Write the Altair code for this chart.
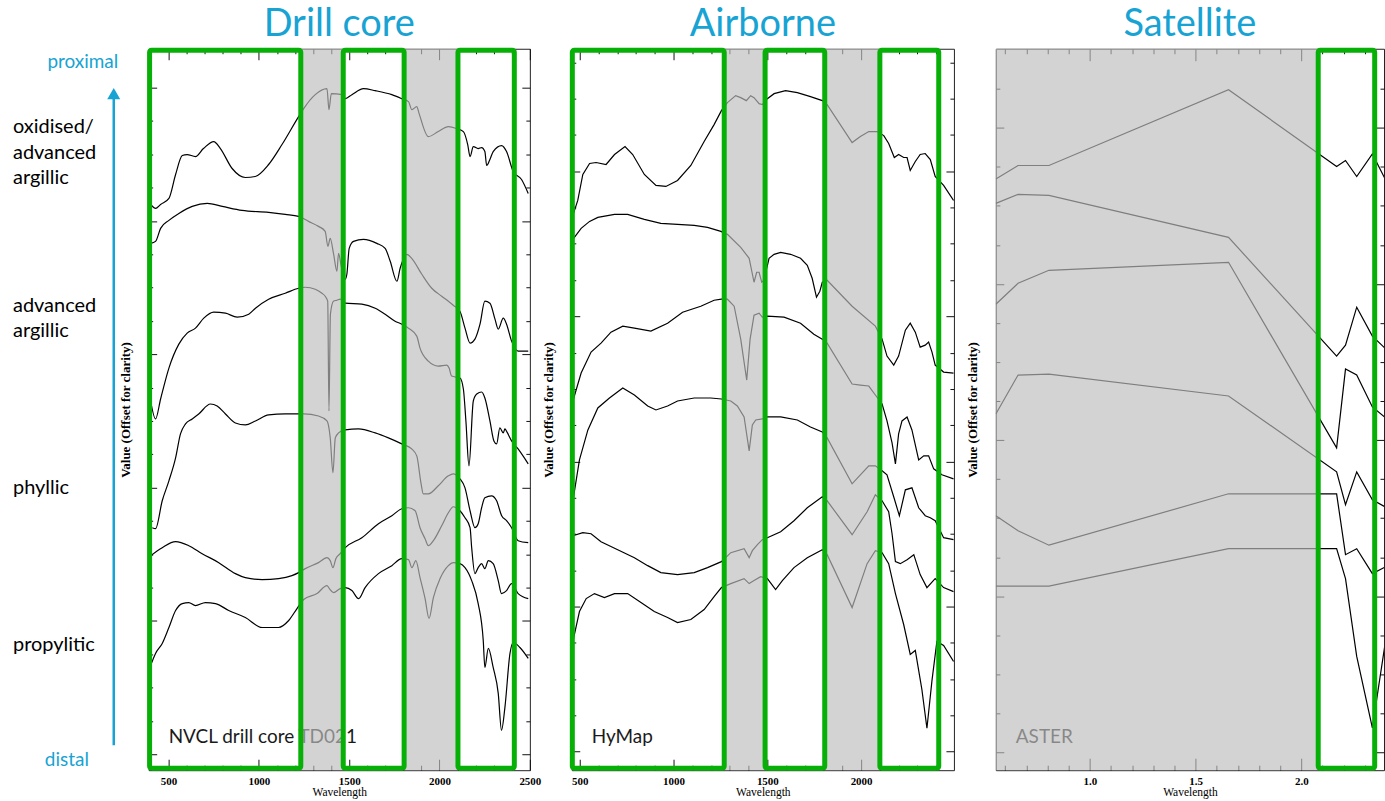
import altair as alt
import pandas as pd

# ---------------------------------------------------------------------------
# Reflectance spectra, offset for clarity (top = proximal, bottom = distal)
# ---------------------------------------------------------------------------
ZONES = ["oxidised", "adv_argillic_a", "adv_argillic_b", "phyllic_a", "phyllic_b", "propylitic"]

# NVCL drill core TD021 (wavelength in nm)
CORE_WL_1 = [406, 428, 456, 502, 539, 576, 603, 649, 693, 750, 787, 852, 925, 980, 1054, 1128, 1220, 1248, 1312, 1377,
             1388, 1401, 1460, 1478, 1515, 1579, 1644, 1736, 1791, 1828, 1847, 1874, 1887, 1938, 1993, 2049, 2095, 2132,
             2156, 2169, 2187, 2214, 2233, 2251, 2261, 2279, 2297, 2344, 2371, 2408, 2454, 2491]
CORE_VAL_1 = [0.566, 0.563, 0.567, 0.573, 0.597, 0.616, 0.617, 0.615, 0.623, 0.630, 0.623, 0.603, 0.594, 0.595, 0.607,
              0.627, 0.655, 0.663, 0.677, 0.683, 0.662, 0.678, 0.677, 0.673, 0.677, 0.683, 0.681, 0.677, 0.673, 0.670,
              0.662, 0.665, 0.658, 0.635, 0.640, 0.645, 0.643, 0.640, 0.627, 0.615, 0.625, 0.623, 0.624, 0.620, 0.606,
              0.612, 0.620, 0.626, 0.620, 0.600, 0.592, 0.578]
CORE_WL_2 = [401, 428, 456, 502, 557, 631, 714, 797, 907, 1054, 1146, 1220, 1275, 1330, 1367, 1382, 1395, 1413, 1432,
             1441, 1456, 1478, 1487, 1500, 1524, 1579, 1653, 1699, 1727, 1764, 1782, 1819, 1846, 1902, 1957, 2012, 2049,
             2076, 2113, 2141, 2169, 2196, 2224, 2251, 2279, 2307, 2325, 2353, 2371, 2399, 2435, 2491]
CORE_VAL_2 = [0.528, 0.530, 0.543, 0.551, 0.558, 0.565, 0.568, 0.565, 0.561, 0.559, 0.557, 0.555, 0.550, 0.545, 0.540,
              0.525, 0.533, 0.518, 0.500, 0.518, 0.505, 0.492, 0.497, 0.523, 0.530, 0.532, 0.528, 0.523, 0.510, 0.490,
              0.503, 0.517, 0.513, 0.497, 0.483, 0.475, 0.470, 0.466, 0.460, 0.443, 0.428, 0.432, 0.447, 0.470, 0.468,
              0.452, 0.442, 0.453, 0.447, 0.430, 0.420, 0.420]
CORE_WL_3 = [401, 428, 456, 502, 557, 603, 649, 695, 750, 815, 880, 944, 981, 1054, 1146, 1220, 1257, 1312, 1349, 1367,
             1381, 1388, 1396, 1413, 1432, 1450, 1478, 1570, 1644, 1699, 1754, 1791, 1828, 1874, 1892, 1938, 1993, 2040,
             2053, 2067, 2113, 2132, 2146, 2163, 2187, 2206, 2233, 2251, 2279, 2301, 2316, 2334, 2353, 2362, 2373, 2399,
             2435, 2491]
CORE_VAL_3 = [0.370, 0.352, 0.372, 0.403, 0.427, 0.438, 0.443, 0.453, 0.459, 0.458, 0.454, 0.457, 0.463, 0.472, 0.478,
              0.483, 0.484, 0.482, 0.478, 0.475, 0.470, 0.360, 0.457, 0.470, 0.471, 0.472, 0.468, 0.467, 0.463, 0.457,
              0.450, 0.447, 0.443, 0.435, 0.423, 0.410, 0.405, 0.406, 0.403, 0.395, 0.393, 0.382, 0.350, 0.305, 0.370,
              0.377, 0.379, 0.373, 0.350, 0.330, 0.327, 0.343, 0.338, 0.342, 0.339, 0.330, 0.322, 0.307]
CORE_WL_4 = [410, 428, 465, 502, 539, 566, 594, 631, 667, 732, 769, 815, 870, 925, 981, 1054, 1146, 1220, 1248, 1330,
             1377, 1395, 1410, 1423, 1441, 1478, 1552, 1644, 1717, 1791, 1846, 1874, 1898, 1910, 1938, 1993, 2049, 2076,
             2113, 2141, 2169, 2196, 2214, 2233, 2251, 2288, 2316, 2344, 2371, 2399, 2435, 2491]
CORE_VAL_4 = [0.243, 0.242, 0.270, 0.290, 0.313, 0.337, 0.347, 0.352, 0.357, 0.367, 0.365, 0.357, 0.348, 0.346, 0.350,
              0.356, 0.357, 0.357, 0.357, 0.355, 0.350, 0.333, 0.298, 0.333, 0.338, 0.341, 0.342, 0.338, 0.333, 0.327,
              0.322, 0.315, 0.287, 0.277, 0.277, 0.285, 0.295, 0.297, 0.292, 0.283, 0.260, 0.243, 0.247, 0.263, 0.273,
              0.275, 0.270, 0.255, 0.250, 0.243, 0.230, 0.228]
CORE_WL_5 = [401, 465, 539, 612, 686, 778, 870, 925, 1018, 1109, 1183, 1220, 1257, 1330, 1377, 1395, 1410, 1426, 1450,
             1478, 1570, 1662, 1736, 1791, 1828, 1865, 1892, 1920, 1938, 1966, 2012, 2049, 2076, 2113, 2141, 2169, 2178,
             2196, 2214, 2233, 2251, 2270, 2297, 2325, 2343, 2371, 2399, 2435, 2491]
CORE_VAL_5 = [0.215, 0.223, 0.229, 0.225, 0.217, 0.208, 0.197, 0.193, 0.191, 0.192, 0.195, 0.198, 0.202, 0.208, 0.213,
              0.210, 0.203, 0.212, 0.217, 0.223, 0.233, 0.247, 0.255, 0.262, 0.263, 0.260, 0.243, 0.232, 0.225, 0.230,
              0.245, 0.258, 0.264, 0.260, 0.253, 0.243, 0.223, 0.197, 0.203, 0.207, 0.202, 0.210, 0.207, 0.190, 0.177,
              0.180, 0.187, 0.177, 0.172]
CORE_WL_6 = [401, 428, 465, 502, 539, 576, 612, 649, 704, 760, 833, 925, 1018, 1109, 1165, 1211, 1248, 1322, 1377, 1390,
             1413, 1450, 1478, 1515, 1552, 1588, 1662, 1736, 1791, 1828, 1847, 1869, 1892, 1920, 1942, 1966, 2003, 2049,
             2076, 2113, 2141, 2178, 2214, 2242, 2251, 2270, 2297, 2325, 2343, 2362, 2390, 2408, 2445, 2491]
CORE_VAL_6 = [0.105, 0.117, 0.127, 0.143, 0.160, 0.167, 0.168, 0.165, 0.168, 0.167, 0.160, 0.153, 0.143, 0.143, 0.150,
              0.162, 0.171, 0.177, 0.185, 0.182, 0.178, 0.182, 0.183, 0.180, 0.172, 0.183, 0.197, 0.205, 0.212, 0.211,
              0.203, 0.210, 0.193, 0.172, 0.152, 0.173, 0.192, 0.205, 0.208, 0.207, 0.203, 0.190, 0.167, 0.130, 0.103,
              0.122, 0.103, 0.077, 0.040, 0.063, 0.117, 0.128, 0.123, 0.112]

# HyMap airborne (wavelength in nm)
AIR_WL_1 = [463, 489, 516, 552, 587, 640, 685, 741, 782, 844, 906, 959, 1021, 1092, 1163, 1216, 1255, 1287, 1331, 1358,
            1388, 1411, 1429, 1456, 1473, 1500, 1536, 1597, 1660, 1730, 1793, 1819, 1952, 1996, 2041, 2085, 2121, 2147,
            2177, 2200, 2227, 2245, 2262, 2289, 2315, 2342, 2369, 2395, 2440, 2493]
AIR_VAL_1 = [0.556, 0.571, 0.597, 0.608, 0.609, 0.607, 0.617, 0.625, 0.617, 0.597, 0.586, 0.585, 0.591, 0.606, 0.630,
             0.647, 0.661, 0.669, 0.676, 0.674, 0.671, 0.676, 0.674, 0.668, 0.667, 0.673, 0.678, 0.681, 0.679, 0.675,
             0.671, 0.667, 0.629, 0.635, 0.640, 0.640, 0.636, 0.628, 0.614, 0.617, 0.614, 0.614, 0.601, 0.610, 0.617,
             0.618, 0.612, 0.595, 0.586, 0.571]
AIR_WL_2 = [463, 507, 552, 596, 685, 755, 844, 932, 1021, 1110, 1181, 1252, 1287, 1358, 1403, 1429, 1443, 1456, 1470,
            1482, 1509, 1536, 1571, 1624, 1677, 1713, 1739, 1762, 1780, 1793, 1819, 1952, 2076, 2112, 2138, 2174, 2200,
            2236, 2262, 2289, 2315, 2342, 2360, 2378, 2395, 2440, 2493]
AIR_VAL_2 = [0.532, 0.543, 0.550, 0.554, 0.557, 0.557, 0.552, 0.548, 0.547, 0.546, 0.544, 0.540, 0.537, 0.524, 0.513,
             0.489, 0.499, 0.499, 0.489, 0.491, 0.513, 0.517, 0.519, 0.517, 0.513, 0.506, 0.493, 0.474, 0.480, 0.489,
             0.491, 0.465, 0.445, 0.432, 0.415, 0.406, 0.415, 0.441, 0.448, 0.439, 0.424, 0.426, 0.429, 0.419, 0.406,
             0.399, 0.398]
AIR_WL_3 = [463, 507, 560, 613, 666, 729, 791, 879, 968, 1048, 1145, 1216, 1255, 1287, 1323, 1358, 1390, 1408, 1429,
            1456, 1473, 1500, 1589, 1677, 1748, 1793, 1819, 1952, 1996, 2041, 2076, 2112, 2138, 2165, 2183, 2200, 2218,
            2245, 2271, 2307, 2334, 2360, 2387, 2431, 2493]
AIR_VAL_3 = [0.370, 0.398, 0.419, 0.428, 0.439, 0.445, 0.443, 0.440, 0.448, 0.459, 0.465, 0.471, 0.472, 0.472, 0.465,
             0.432, 0.391, 0.432, 0.456, 0.458, 0.454, 0.455, 0.454, 0.448, 0.437, 0.432, 0.428, 0.387, 0.386, 0.385,
             0.376, 0.367, 0.350, 0.328, 0.307, 0.337, 0.350, 0.354, 0.341, 0.311, 0.315, 0.315, 0.302, 0.296, 0.292]
AIR_WL_4 = [463, 498, 543, 596, 658, 729, 791, 862, 906, 968, 1021, 1110, 1198, 1255, 1305, 1340, 1376, 1403, 1420,
            1438, 1473, 1500, 1571, 1660, 1730, 1793, 1819, 1952, 1996, 2041, 2076, 2112, 2138, 2177, 2204, 2236, 2271,
            2307, 2342, 2369, 2395, 2440, 2493]
AIR_VAL_4 = [0.270, 0.311, 0.341, 0.363, 0.373, 0.383, 0.376, 0.365, 0.361, 0.365, 0.370, 0.373, 0.373, 0.372, 0.370,
             0.365, 0.354, 0.320, 0.346, 0.351, 0.352, 0.354, 0.354, 0.351, 0.344, 0.339, 0.333, 0.287, 0.296, 0.305,
             0.305, 0.300, 0.296, 0.272, 0.255, 0.281, 0.283, 0.263, 0.255, 0.253, 0.250, 0.233, 0.231]
AIR_WL_5 = [463, 516, 560, 613, 702, 791, 862, 932, 1021, 1110, 1181, 1255, 1305, 1376, 1403, 1420, 1447, 1473, 1500,
            1571, 1642, 1713, 1793, 1819, 1952, 2032, 2076, 2112, 2147, 2165, 2183, 2209, 2245, 2281, 2315, 2351, 2395,
            2440, 2493]
AIR_VAL_5 = [0.235, 0.238, 0.237, 0.229, 0.221, 0.213, 0.205, 0.198, 0.196, 0.198, 0.203, 0.209, 0.218, 0.222, 0.213,
             0.220, 0.226, 0.231, 0.233, 0.239, 0.250, 0.263, 0.274, 0.270, 0.236, 0.259, 0.276, 0.270, 0.259, 0.237,
             0.209, 0.207, 0.211, 0.216, 0.196, 0.183, 0.192, 0.183, 0.179]
AIR_WL_6 = [463, 498, 534, 578, 631, 685, 755, 826, 897, 968, 1021, 1092, 1163, 1216, 1255, 1305, 1376, 1403, 1429, 1464,
            1500, 1544, 1580, 1642, 1713, 1793, 1819, 1952, 2032, 2076, 2112, 2147, 2183, 2227, 2262, 2289, 2324, 2351,
            2378, 2404, 2440, 2493]
AIR_VAL_6 = [0.129, 0.159, 0.172, 0.177, 0.173, 0.177, 0.177, 0.168, 0.159, 0.153, 0.148, 0.151, 0.161, 0.174, 0.183,
             0.187, 0.192, 0.187, 0.190, 0.194, 0.192, 0.181, 0.190, 0.203, 0.213, 0.221, 0.216, 0.163, 0.207, 0.220,
             0.218, 0.207, 0.177, 0.146, 0.116, 0.120, 0.081, 0.042, 0.090, 0.129, 0.125, 0.109]

# ASTER satellite band centres (wavelength in micrometres)
ASTER_BANDS = [0.556, 0.661, 0.807, 1.656, 2.167, 2.209, 2.262, 2.336, 2.400]
SAT_VAL_1 = [0.5925, 0.606, 0.606, 0.682, 0.605, 0.611, 0.595, 0.6175, 0.591]
SAT_VAL_2 = [0.568, 0.577, 0.576, 0.534, 0.415, 0.426, 0.464, 0.435, 0.422]
SAT_VAL_3 = [0.467, 0.488, 0.501, 0.509, 0.323, 0.402, 0.396, 0.364, 0.353]
SAT_VAL_4 = [0.357, 0.396, 0.397, 0.375, 0.299, 0.266, 0.299, 0.271, 0.2635]
SAT_VAL_5 = [0.255, 0.240, 0.2255, 0.277, 0.277, 0.216, 0.222, 0.197, 0.204]
SAT_VAL_6 = [0.1845, 0.1845, 0.1845, 0.222, 0.222, 0.192, 0.114, 0.0425, 0.132]

# Atmospheric / water bands shaded grey, SWIR windows outlined in green
CORE_GREY = [(1232, 1467), (1804, 2102)]
CORE_WINDOWS = [(395, 1232), (1467, 1804), (2102, 2414)]
AIR_GREY = [(1270, 1488), (1806, 2100)]
AIR_WINDOWS = [(460, 1270), (1488, 1806), (2100, 2414)]
SAT_GREY = [(0.556, 2.080)]
SAT_WINDOWS = [(2.080, 2.347)]

# ---------------------------------------------------------------------------
# Styling
# ---------------------------------------------------------------------------
CYAN = "#17A3D3"
GREEN = "#06B006"
GREY_FILL = "#BDBDBD"
SANS = "Lato"
SERIF = "Liberation Serif"
H = 723            # plot height (px)
Y_DOMAIN = [0, 0.723]

CORE_YTICKS = [round(0.684 - 0.0334 * k, 4) for k in range(21)]
AIR_YTICKS = [round(0.7093 - 0.03635 * k, 4) for k in range(20)]
SAT_YTICKS = [round(0.6831 - 0.03914 * k, 4) for k in range(18)]


def y_major_test(top, step, rem):
    return f"abs(round(({top} - datum.value) / {step}) % 4 - {rem}) < 0.5"


def spectra_frame(wls, vals):
    rows = []
    for zone, w, v in zip(ZONES, wls, vals):
        rows.append(pd.DataFrame({"wl": w, "val": v, "spectrum": zone}))
    return pd.concat(rows, ignore_index=True)


def panel(df, width, domain, xticks, x_major, x_label_expr, x_fmt, yticks, y_major,
          grey, windows, caption, title, interp="linear", xmaj=11, xmin=5):
    xs = alt.Scale(domain=domain, nice=False, zero=False)
    ys = alt.Scale(domain=Y_DOMAIN, nice=False, zero=False)
    x_axis = alt.Axis(
        values=xticks, title="Wavelength", format=x_fmt, labelExpr=x_label_expr,
        grid=True, gridColor="#111111", gridOpacity=1, gridWidth=1,
        gridDash={"condition": {"test": x_major, "value": [xmaj, H - 2 * xmaj, xmaj]},
                  "value": [xmin, H - 2 * xmin, xmin]},
        ticks=False, domain=False, labelOverlap=False, labelFlush=False,
        labelFont=SERIF, labelFontSize=11, labelFontWeight="bold", labelColor="black", labelPadding=5,
        titleFont=SERIF, titleFontSize=11.5, titleFontWeight="normal", titleColor="black", titlePadding=0)
    y_axis = alt.Axis(
        values=yticks, title="Value (Offset for clarity)", labels=False, ticks=False, domain=False,
        grid=True, gridColor="#111111", gridOpacity=1, gridWidth=1,
        gridDash={"condition": {"test": y_major, "value": [8, width - 16, 8]},
                  "value": [4, width - 8, 4]},
        titleFont=SERIF, titleFontSize=13, titleFontWeight="bold", titleColor="black", titlePadding=16)

    X = alt.X("wl:Q", scale=xs, axis=x_axis)
    Y = alt.Y("val:Q", scale=ys, axis=y_axis)

    lines = alt.Chart(df).mark_line(color="black", strokeWidth=1.2, clip=True, interpolate=interp).encode(
        x=X, y=Y, detail="spectrum:N")

    cap = alt.Chart(pd.DataFrame({"t": [caption]})).mark_text(
        font=SANS, fontSize=19, color="#1a1a1a", align="left", baseline="middle").encode(
        text="t:N", x=alt.value(20), y=alt.value(690))

    gdf = pd.DataFrame({"wl": [a for a, b in grey], "wl2": [b for a, b in grey]})
    bands = alt.Chart(gdf).mark_rect(color=GREY_FILL, opacity=0.67).encode(
        x=X, x2="wl2:Q", y=alt.value(0), y2=alt.value(H))

    wdf = pd.DataFrame({"wl": [a for a, b in windows], "wl2": [b for a, b in windows]})
    boxes = alt.Chart(wdf).mark_rect(fill="white", fillOpacity=0, stroke=GREEN, strokeWidth=5,
                                     cornerRadius=2).encode(
        x=X, x2="wl2:Q", y=alt.value(1.5), y2=alt.value(721))

    ttl = alt.Chart(pd.DataFrame({"t": [title]})).mark_text(
        font=SANS, fontSize=38, color=CYAN, align="center", baseline="alphabetic").encode(
        text="t:N", x=alt.value(width / 2), y=alt.value(-13))

    return [lines, cap, bands, boxes, ttl]


# ---------------------------------------------------------------------------
# Panels
# ---------------------------------------------------------------------------
core_df = spectra_frame([CORE_WL_1, CORE_WL_2, CORE_WL_3, CORE_WL_4, CORE_WL_5, CORE_WL_6],
                        [CORE_VAL_1, CORE_VAL_2, CORE_VAL_3, CORE_VAL_4, CORE_VAL_5, CORE_VAL_6])
air_df = spectra_frame([AIR_WL_1, AIR_WL_2, AIR_WL_3, AIR_WL_4, AIR_WL_5, AIR_WL_6],
                       [AIR_VAL_1, AIR_VAL_2, AIR_VAL_3, AIR_VAL_4, AIR_VAL_5, AIR_VAL_6])
sat_df = spectra_frame([ASTER_BANDS] * 6,
                       [SAT_VAL_1, SAT_VAL_2, SAT_VAL_3, SAT_VAL_4, SAT_VAL_5, SAT_VAL_6])

nm_major = "datum.value % 500 === 0"
nm_labels = "datum.value % 500 === 0 ? datum.label : ''"
um_major = "abs(datum.value * 2 - round(datum.value * 2)) < 0.001"
um_labels = f"{um_major} ? datum.label : ''"

W1, W2, W3 = 382, 383, 389

core_layers = panel(core_df, W1, [390, 2500], list(range(400, 2501, 100)), nm_major, nm_labels, "d",
                    CORE_YTICKS, y_major_test(0.684, 0.0334, 0), CORE_GREY, CORE_WINDOWS,
                    "NVCL drill core TD021", "Drill core", interp="monotone")
air_layers = panel(air_df, W2, [457, 2495], list(range(500, 2401, 100)), nm_major, nm_labels, "d",
                   AIR_YTICKS, y_major_test(0.7093, 0.03635, 3), AIR_GREY, AIR_WINDOWS,
                   "HyMap", "Airborne")
sat_layers = panel(sat_df, W3, [0.556, 2.391], [round(0.6 + 0.1 * k, 1) for k in range(18)], um_major,
                   um_labels, ".1f", SAT_YTICKS, y_major_test(0.6831, 0.03914, 1), SAT_GREY, SAT_WINDOWS,
                   "ASTER", "Satellite", xmaj=12, xmin=5)

# Alteration-zone annotation to the left of the drill-core panel
zone_text = pd.DataFrame({
    "t": ["oxidised/", "advanced", "argillic", "advanced", "argillic", "phyllic", "propylitic"],
    "y": [78, 104, 130, 258, 283, 440, 598],
})
zones = alt.Chart(zone_text).mark_text(font=SANS, fontSize=20, color="black", align="left",
                                       baseline="middle").encode(
    text="t:N", x=alt.value(-136), y=alt.Y("y:Q", scale=None))

ends = pd.DataFrame({"t": ["proximal", "distal"], "x": [-66, -82], "y": [13, 713]})
end_text = alt.Chart(ends).mark_text(font=SANS, fontSize=19, color=CYAN, align="center",
                                     baseline="middle").encode(
    text="t:N", x=alt.X("x:Q", scale=None), y=alt.Y("y:Q", scale=None))

arrow_shaft = alt.Chart(pd.DataFrame({"k": [0]})).mark_rule(color=CYAN, strokeWidth=2.5).encode(
    x=alt.value(-35), y=alt.value(698), y2=alt.value(50))
arrow_head = alt.Chart(pd.DataFrame({"k": [0]})).mark_point(
    shape="triangle-up", filled=True, color=CYAN, opacity=1, size=170).encode(
    x=alt.value(-35), y=alt.value(45))

# fixes the page origin relative to the first plot
origin = alt.Chart(pd.DataFrame({"k": [0]})).mark_rule(color="white", strokeWidth=1).encode(
    x=alt.value(-148), y=alt.value(-47), y2=alt.value(-46))

core = alt.layer(*core_layers, zones, end_text, arrow_shaft, arrow_head, origin).properties(
    width=W1, height=H)
air = alt.layer(*air_layers).properties(width=W2, height=H)
sat = alt.layer(*sat_layers).properties(width=W3, height=H)

chart = alt.hconcat(core, air, sat, spacing=42, bounds="flush").properties(
    padding={"left": 0, "top": 0, "right": 0, "bottom": 0}
).configure_view(stroke="#222222", strokeWidth=1)

chart.save("out.html", embed_options={"renderer": "svg", "actions": False})
